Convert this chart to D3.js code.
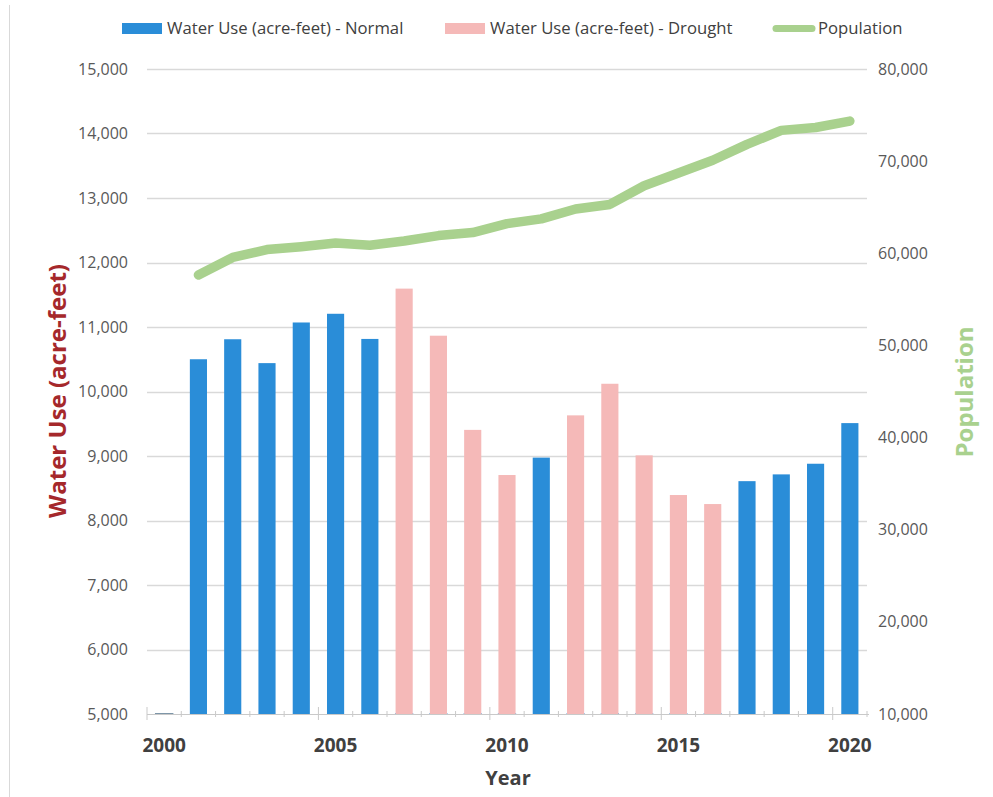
<!DOCTYPE html>
<html>
<head>
<meta charset="utf-8">
<script src="https://cdn.jsdelivr.net/npm/d3@7/dist/d3.min.js"></script>
<style>
  html, body { margin: 0; padding: 0; background: #fff; }
  svg { display: block; }
  text { font-family: "Open Sans", "DejaVu Sans", sans-serif; }
</style>
</head>
<body>
<svg id="chart" width="993" height="797"></svg>
<script>
// Years on the category axis
const years = [2000, 2001, 2002, 2003, 2004, 2005, 2006, 2007, 2008, 2009, 2010,
               2011, 2012, 2013, 2014, 2015, 2016, 2017, 2018, 2019, 2020];

// Water use in acre-feet; 0 means the year belongs to the other series
const normalUse = [0, 10500, 10810, 10440, 11070, 11205, 10815, 0, 0, 0, 0,
                   8975, 0, 0, 0, 0, 0, 8610, 8715, 8880, 9510];
const droughtUse = [0, 0, 0, 0, 0, 0, 0, 11595, 10865, 9405, 8705,
                    0, 9630, 10120, 9010, 8395, 8255, 0, 0, 0, 0];

// Population (null where not reported)
const population = [null, 57650, 59550, 60400, 60720, 61120, 60870, 61340, 61920, 62250, 63220,
                    63730, 64800, 65300, 67330, 68720, 70100, 71820, 73340, 73650, 74350];

// Axis ticks
const leftTicks = [5000, 6000, 7000, 8000, 9000, 10000, 11000, 12000, 13000, 14000, 15000];
const rightTicks = [10000, 20000, 30000, 40000, 50000, 60000, 70000, 80000];
const yearLabels = [2000, 2005, 2010, 2015, 2020];

const seriesNames = ["Water Use (acre-feet) - Normal", "Water Use (acre-feet) - Drought", "Population"];

const colors = {
  normal: "#2a8dd8",
  drought: "#f5b9b8",
  pop: "#a9d18e",
  grid: "#d9d9d9",
  tick: "#595959",
  year: "#404040",
  leftTitle: "#a5282b"
};

const svg = d3.select("#chart");
const plot = { left: 147, right: 867, top: 69, bottom: 714 };

const x = d3.scaleBand().domain(years).range([plot.left, plot.right])
  .paddingInner(0.5).paddingOuter(0.25);
const step = x.step();
const yL = d3.scaleLinear().domain([5000, 15000]).range([plot.bottom, plot.top]).clamp(true);
const yR = d3.scaleLinear().domain([10000, 80000]).range([plot.bottom, plot.top]);
const fmt = d3.format(",");

// Outer frame edge
svg.append("line").attr("x1", 9.5).attr("x2", 9.5).attr("y1", 5).attr("y2", 797)
  .attr("stroke", "#d9d9d9").attr("stroke-width", 1);

// Horizontal gridlines on the water-use scale
svg.append("g").selectAll("line").data(leftTicks.filter(d => d > 5000)).join("line")
  .attr("x1", plot.left).attr("x2", plot.right)
  .attr("y1", d => Math.round(yL(d)) + 0.5).attr("y2", d => Math.round(yL(d)) + 0.5)
  .attr("stroke", colors.grid).attr("stroke-width", 1.3);

// Left axis (labels only)
const leftAxis = d3.axisLeft(yL).tickValues(leftTicks).tickFormat(fmt).tickSize(0).tickPadding(19);
const gL = svg.append("g").attr("transform", `translate(${plot.left},0)`).call(leftAxis);
gL.select(".domain").remove();
gL.selectAll("text").attr("fill", colors.tick).attr("font-size", 16)
  .attr("font-family", "'Open Sans', sans-serif");

// Right axis (labels only)
const rightAxis = d3.axisRight(yR).tickValues(rightTicks).tickFormat(fmt).tickSize(0).tickPadding(11);
const gR = svg.append("g").attr("transform", `translate(${plot.right},0)`).call(rightAxis);
gR.select(".domain").remove();
gR.selectAll("text").attr("fill", colors.tick).attr("font-size", 16)
  .attr("font-family", "'Open Sans', sans-serif");

// Bars: normal years
const bw = x.bandwidth();
svg.append("g").selectAll("rect").data(years.map((yr, i) => ({ yr, v: normalUse[i] }))).join("rect")
  .attr("x", d => x(d.yr)).attr("width", bw)
  .attr("y", d => yL(Math.max(d.v, 5000)))
  .attr("height", d => Math.max(yL(5000) - yL(Math.max(d.v, 5000)), 0.01))
  .attr("fill", colors.normal)
  .attr("stroke", d => d.v <= 5000 ? colors.normal : "none")
  .attr("stroke-width", 1.2);

// Bars: drought years
svg.append("g").selectAll("rect").data(years.map((yr, i) => ({ yr, v: droughtUse[i] }))).join("rect")
  .attr("x", d => x(d.yr)).attr("width", bw)
  .attr("y", d => yL(Math.max(d.v, 5000)))
  .attr("height", d => Math.max(yL(5000) - yL(Math.max(d.v, 5000)), 0.01))
  .attr("fill", colors.drought)
  .attr("stroke", d => d.v <= 5000 && normalUse[years.indexOf(d.yr)] <= 5000 && d.yr === years[0] ? "#7f7f7f" : "none")
  .attr("stroke-width", 1.2);

// Category axis line and ticks
const gx = svg.append("g");
gx.append("line").attr("x1", plot.left).attr("x2", plot.right + 2)
  .attr("y1", plot.bottom + 0.5).attr("y2", plot.bottom + 0.5)
  .attr("stroke", "#c9c9c9").attr("stroke-width", 1.2);
const boundaries = d3.range(years.length + 1);
gx.selectAll("line.tick").data(boundaries).join("line").attr("class", "tick")
  .attr("x1", i => plot.left + i * step).attr("x2", i => plot.left + i * step)
  .attr("y1", i => (i % 5 === 0) ? plot.bottom - 7 : plot.bottom - 3)
  .attr("y2", i => (i % 5 === 0) ? plot.bottom + 6 : plot.bottom + 3)
  .attr("stroke", "#c9c9c9").attr("stroke-width", 1);

// Year labels
gx.selectAll("text").data(yearLabels).join("text")
  .attr("x", d => x(d) + bw / 2).attr("y", 752)
  .attr("text-anchor", "middle")
  .attr("font-family", "Lato, sans-serif").attr("font-weight", "bold")
  .attr("font-size", 19).attr("fill", colors.year)
  .text(d => d);

// Population line
const line = d3.line()
  .defined(d => d.p != null)
  .x(d => x(d.yr) + bw / 2)
  .y(d => yR(d.p));
svg.append("path")
  .datum(years.map((yr, i) => ({ yr, p: population[i] })))
  .attr("d", line)
  .attr("fill", "none").attr("stroke", colors.pop)
  .attr("stroke-width", 9.5).attr("stroke-linecap", "round").attr("stroke-linejoin", "round");

// Axis titles
svg.append("text").attr("transform", "translate(66,391) rotate(-90)")
  .attr("text-anchor", "middle").attr("font-family", "Lato, sans-serif")
  .attr("font-weight", "bold").attr("font-size", 24).attr("fill", colors.leftTitle)
  .text("Water Use (acre-feet)");
svg.append("text").attr("transform", "translate(973,392) rotate(-90)")
  .attr("text-anchor", "middle").attr("font-family", "Lato, sans-serif")
  .attr("font-weight", "bold").attr("font-size", 24).attr("fill", colors.pop)
  .text("Population");
svg.append("text").attr("x", 508).attr("y", 785)
  .attr("text-anchor", "middle").attr("font-family", "Lato, sans-serif")
  .attr("font-weight", "bold").attr("font-size", 20).attr("fill", colors.year)
  .text("Year");

// Legend
const legend = svg.append("g").attr("font-family", "Lato, sans-serif");
const legendItems = [
  { name: seriesNames[0], x: 122, kind: "rect", color: colors.normal },
  { name: seriesNames[1], x: 445, kind: "rect", color: colors.drought },
  { name: seriesNames[2], x: 772, kind: "line", color: colors.pop }
];
legendItems.forEach(it => {
  if (it.kind === "rect") {
    legend.append("rect").attr("x", it.x).attr("y", 23).attr("width", 40).attr("height", 11)
      .attr("fill", it.color);
  } else {
    legend.append("line").attr("x1", it.x + 4).attr("x2", it.x + 40).attr("y1", 28.5).attr("y2", 28.5)
      .attr("stroke", it.color).attr("stroke-width", 7).attr("stroke-linecap", "round");
  }
  legend.append("text").attr("x", it.x + (it.kind === "rect" ? 45 : 46)).attr("y", 34)
    .attr("font-size", 16.7).attr("fill", "#404040").text(it.name);
});
</script>
</body>
</html>
